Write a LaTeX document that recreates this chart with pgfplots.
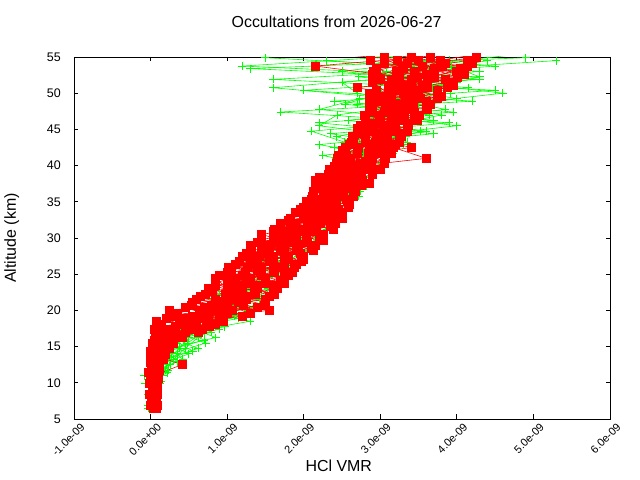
\documentclass[border=0pt]{standalone}
\usepackage{pgfplots}
\usepackage{pgfplotstable}
\pgfplotsset{compat=1.18}
\usepackage{fontspec}
\setmainfont{Liberation Sans}
\definecolor{gpgreen}{RGB}{0,255,0}
\definecolor{gpred}{RGB}{255,0,0}

% values in units of 1e-9 (HCl VMR)
\pgfplotstableread{
alt g1 g2 g3 g4 r1 r2 r3 r4 r5
6.5 -0.03 0.03 -0.01 0.01 0.05 0.03 0.07 0.04 0.06
8 0.05 -0.01 0.03 0.01 0.02 0.08 0.04 0.06 0.06
9.5 0.03 0.08 0.0 0.06 0.06 0.02 0.08 0.05 0.04
11 0.12 -0.08 0.16 0.08 0.1 0.04 0.02 0.08 0.07
12.5 0.26 0.11 0.21 0.16 0.06 0.41 0.03 0.09 0.1
14 0.2 0.5 0.27 0.35 0.14 0.01 0.19 0.06 0.1
15.5 0.48 0.23 0.72 0.35 0.02 0.3 0.09 0.21 0.14
17 0.7 0.49 0.34 0.79 0.45 0.08 0.32 0.2 0.62
18.5 0.86 1.3 0.46 0.68 0.55 0.95 0.08 0.73 0.37
20 1.27 0.67 1.07 0.95 1.07 0.25 1.55 0.63 0.85
21.5 0.82 1.42 1.02 1.22 0.85 1.5 0.6 1.25 1.05
23 1.3 1.0 1.53 1.18 1.65 0.75 1.2 1.0 1.4
24.5 1.46 1.55 1.1 1.22 1.1 1.3 1.75 0.85 1.5
26 1.3 1.78 1.43 1.6 1.45 1.88 1.02 1.64 1.26
27.5 1.76 1.4 1.93 1.58 2.0 1.2 1.6 1.42 1.78
29 1.73 2.08 1.55 1.95 1.3 1.75 1.93 2.15 1.57
30.5 2.14 1.69 1.84 1.99 1.85 2.25 1.45 1.67 2.03
32 1.89 2.19 2.34 2.1 2.21 1.69 2.41 2.05 1.89
33.5 2.34 2.04 2.19 2.49 2.06 2.51 1.89 2.34 2.2
35 2.48 2.55 2.22 2.35 2.57 2.03 2.3 2.18 2.42
36.5 2.59 2.29 2.74 2.44 2.28 2.52 2.67 2.13 2.4
38 2.49 2.79 2.28 2.7 2.5 2.77 2.15 2.62 2.38
39.5 2.7 2.35 2.88 2.53 3.0 2.34 2.51 2.79 2.65
41 2.55 2.9 2.42 2.82 2.61 3.6 2.89 2.44 3.07
42.5 3.15 2.4 2.65 2.9 2.71 3.17 2.54 3.4 3.0
44 2.73 3.3 3.33 2.43 3.27 2.64 3.09 2.81 2.95
45.5 4.0 2.95 2.2 3.11 2.91 3.37 2.74 3.19 3.05
47 2.84 3.64 2.44 3.8 3.51 2.79 3.31 2.99 3.15
48.5 3.34 2.54 3.5 2.7 3.07 3.65 2.85 3.25 3.43
50 4.6 3.02 2.7 3.92 3.5 2.85 3.75 3.1 3.3
51.5 3.4 4.0 2.5 3.9 3.18 3.9 3.4 2.9 3.62
53 3.08 2.5 4.3 3.63 3.99 3.21 2.91 3.69 3.45
54.5 5.3 3.6 2.3 4.4 3.22 4.13 3.5 2.87 3.78
}\tA

\pgfplotstableread{
alt g5 g6 g7 g8 r6 r7 r8 r9 r10
7.25 0.03 -0.01 0.05 0.0 0.05 0.08 0.03 0.06 0.04
8.75 0.04 0.07 0.01 0.05 0.07 0.03 0.08 0.04 0.05
10.25 0.1 0.04 0.13 0.06 0.04 0.09 0.02 0.07 0.05
11.75 0.16 0.23 0.1 0.19 0.08 0.03 0.12 0.06 0.1
13.25 0.3 0.18 0.42 0.22 0.13 0.07 0.03 0.17 0.1
14.75 0.45 0.62 0.25 0.38 0.08 0.25 0.13 0.02 0.18
16.25 0.62 0.28 0.85 0.5 0.32 0.06 0.42 0.16 0.24
17.75 0.81 0.97 0.49 0.62 0.14 0.6 0.32 0.77 0.46
19.25 1.1 0.66 1.22 0.9 0.95 0.3 1.2 0.55 0.75
20.75 1.0 1.42 0.82 1.22 0.79 1.21 0.53 1.48 1.0
22.25 1.37 0.9 1.55 1.2 1.62 0.72 1.17 0.97 1.37
23.75 1.27 1.65 1.13 1.48 1.1 1.5 0.85 1.75 1.3
25.25 1.6 1.25 1.77 1.45 1.43 1.85 1.24 1.0 1.62
26.75 1.55 1.93 1.41 1.7 1.97 1.16 1.57 1.39 1.75
28.25 1.9 1.5 2.07 1.75 1.55 1.9 1.32 2.13 1.73
29.75 2.01 1.69 1.83 2.17 2.25 1.44 1.85 1.67 2.03
31.25 1.85 2.3 2.02 2.15 1.82 2.16 2.38 1.61 1.99
32.75 2.33 2.03 2.48 2.15 2.01 2.5 1.82 2.31 2.16
34.25 2.46 2.6 2.18 2.35 2.41 2.15 2.58 1.99 2.28
35.75 2.42 2.31 2.72 2.5 2.26 2.65 2.11 2.5 2.38
37.25 2.67 2.55 2.37 2.82 2.75 2.21 2.48 2.36 2.6
38.75 2.3 2.9 2.6 2.74 2.48 2.9 2.32 2.74 2.61
40.25 2.84 2.46 3.02 2.62 2.88 2.42 3.05 2.6 2.74
41.75 2.78 3.17 2.5 2.95 2.52 2.98 2.7 3.15 2.84
43.25 3.35 2.53 2.75 3.08 3.25 2.8 3.08 2.62 2.94
44.75 2.95 2.1 3.6 3.53 2.9 3.35 2.72 3.04 3.18
46.25 3.33 3.7 2.58 2.9 3.48 2.99 3.29 2.8 3.14
47.75 3.1 2.2 3.85 3.3 3.07 3.62 2.86 3.41 3.24
49.25 4.0 2.73 3.2 3.58 3.75 2.9 3.52 3.14 3.33
50.75 3.15 4.15 1.6 3.68 3.19 3.88 2.7 3.61 3.4
52.25 4.3 2.72 3.3 4.3 4.0 3.25 3.71 2.96 3.48
53.75 1.2 4.5 3.4 3.93 3.55 2.15 4.13 3.29 3.81
55.25 3.5 2.83 4.7 3.9 3.29 3.85 2.6 4.2 3.57
}\tB

\pgfplotstableread{
alt g9 g10 r11 r12 r13 r14
6.9 0.04 -0.04 0.0 0.06 0.09 0.03
8.4 -0.03 0.08 0.07 -0.02 0.03 0.09
9.9 0.12 -0.07 0.03 0.09 0.06 -0.02
11.4 -0.02 0.22 0.1 0.02 -0.03 0.06
12.9 0.35 0.1 0.0 0.12 0.05 0.08
14.4 0.2 0.55 0.16 0.04 0.1 -0.01
15.9 0.7 0.3 0.05 0.15 0.3 0.1
17.4 0.4 0.9 0.25 0.5 0.05 0.68
18.9 1.15 0.6 0.9 0.2 0.65 0.45
20.4 0.75 1.35 0.45 1.4 0.95 0.7
21.9 1.45 0.85 1.25 0.65 1.0 1.55
23.4 1.0 1.55 0.85 1.6 1.15 1.4
24.9 1.65 1.1 1.45 0.9 1.8 1.2
26.4 1.3 1.8 1.1 1.6 1.35 1.9
27.9 1.95 1.45 1.75 1.25 1.95 1.5
29.4 1.6 2.05 1.4 2.05 1.65 1.85
30.9 2.2 1.75 2.15 1.6 1.95 1.75
32.4 1.95 2.35 1.8 2.3 2.05 2.4
33.9 2.5 2.1 2.45 1.95 2.25 2.1
35.4 2.2 2.6 2.1 2.55 2.35 2.2
36.9 2.7 2.3 2.6 2.25 2.45 2.15
38.4 2.3 2.8 2.35 2.7 2.2 2.55
39.9 2.9 2.35 2.85 2.5 2.4 2.7
41.4 2.25 3.0 2.55 2.9 3.05 2.45
42.9 3.3 2.2 3.1 2.6 2.85 3.2
44.4 2.35 3.7 2.75 3.25 2.95 3.05
45.9 3.9 2.2 3.35 2.85 3.15 2.95
47.4 1.7 3.95 2.9 3.45 3.05 3.3
48.9 4.2 2.4 3.6 3.0 3.35 2.85
50.4 2.0 4.5 3.2 3.75 2.95 3.5
51.9 4.3 1.6 3.0 3.4 3.85 3.15
53.4 1.3 4.1 3.7 2.95 3.3 4.05
54.9 4.9 1.5 3.4 4.25 3.05 3.65
}\tC

\pgfplotstableread{
alt r15 r16 r17 r18
7.6 0.04 0.08 0.01 0.06
9.1 0.02 0.06 0.09 0.04
10.6 0.08 0.0 0.05 0.1
12.1 0.05 0.11 0.01 0.07
13.6 0.13 0.03 0.08 0.0
15.1 0.07 0.22 0.02 0.14
16.6 0.28 0.08 0.42 0.16
18.1 0.1 0.85 0.4 0.6
19.6 0.75 0.35 1.3 1.0
21.1 1.15 0.55 0.9 1.5
22.6 0.8 1.35 1.6 1.05
24.1 1.5 1.0 1.25 1.7
25.6 1.05 1.75 1.4 1.6
27.1 1.8 1.3 2.0 1.55
28.6 1.45 2.1 1.7 1.9
30.1 2.2 1.6 1.9 1.75
31.6 1.85 2.35 2.1 1.7
33.1 2.45 2.0 2.2 2.3
34.6 2.15 2.6 2.4 2.3
36.1 2.5 2.25 2.65 2.4
37.6 2.3 2.7 2.55 2.85
39.1 2.9 2.45 2.6 2.75
40.6 2.55 3.05 2.8 2.45
42.1 3.1 2.7 2.5 2.95
43.6 2.65 3.0 3.25 2.8
45.1 3.35 2.85 3.1 2.7
46.6 2.8 3.2 3.45 3.0
48.1 3.6 2.9 3.15 3.35
49.6 3.05 3.8 3.4 2.95
51.1 3.55 3.1 3.95 3.3
52.6 3.25 4.1 2.9 3.6
54.1 3.85 3.35 4.2 3.05
55.6 3.1 3.7 4.3 3.45
}\tD

\begin{document}
\begin{tikzpicture}[x=1bp,y=1bp]
\path[use as bounding box] (-74,-61) rectangle (566,419);
\begin{axis}[
  at={(0,0)}, anchor=south west,
  scale only axis, width=536bp, height=362bp,
  xmin=-1, xmax=6, ymin=5, ymax=55,
  xtick={-1,0,1,2,3,4,5,6},
  xticklabels={-1.0e-09,0.0e+00,1.0e-09,2.0e-09,3.0e-09,4.0e-09,5.0e-09,6.0e-09},
  ytick={5,10,15,20,25,30,35,40,45,50,55},
  /pgf/number format/assume math mode=true,
  tick align=inside, major tick length=4.5bp,
  tick style={black, line width=0.8bp},
  axis line style={line width=0.8bp},
  xticklabel style={rotate=45, anchor=east, inner sep=0pt, xshift=2bp, yshift=-10.5bp,
    font=\fontsize{11}{12}\selectfont},
  yticklabel style={anchor=east, inner sep=0pt, xshift=-13bp,
    font=\fontsize{12.5}{14}\selectfont},
  xlabel={HCl VMR},
  ylabel={Altitude (km)},
  xlabel style={at={(axis description cs:0.494,-0.130)}, anchor=center, inner sep=0pt,
    font=\fontsize{16}{18}\selectfont},
  ylabel style={at={(axis description cs:-0.116,0.5)}, anchor=center, inner sep=0pt,
    font=\fontsize{16}{18}\selectfont},
  title={Occultations from 2026-06-27},
  title style={at={(axis description cs:0.49,1.0815)}, anchor=center, inner sep=0pt,
    font=\fontsize{16}{18}\selectfont},
  gline/.style={draw=gpgreen, line width=0.6bp, mark=+, mark size=4bp,
    mark options={solid, draw=gpgreen, line width=0.8bp}},
  rline/.style={draw=gpred, line width=0.6bp, mark=square*, mark size=4bp,
    mark options={solid, draw=gpred, fill=gpred}},
]
\addplot[gline] table[x=g1, y=alt] {\tA};
\addplot[gline] table[x=g5, y=alt] {\tB};
\addplot[gline] table[x=g9, y=alt] {\tC};
\addplot[gline] table[x=g2, y=alt] {\tA};
\addplot[gline] table[x=g6, y=alt] {\tB};
\addplot[gline] table[x=g10, y=alt] {\tC};
\addplot[gline] table[x=g3, y=alt] {\tA};
\addplot[gline] table[x=g7, y=alt] {\tB};
\addplot[gline] table[x=g4, y=alt] {\tA};
\addplot[gline] table[x=g8, y=alt] {\tB};
\addplot[rline] table[x=r1, y=alt] {\tA};
\addplot[rline] table[x=r6, y=alt] {\tB};
\addplot[rline] table[x=r11, y=alt] {\tC};
\addplot[rline] table[x=r15, y=alt] {\tD};
\addplot[rline] table[x=r2, y=alt] {\tA};
\addplot[rline] table[x=r7, y=alt] {\tB};
\addplot[rline] table[x=r12, y=alt] {\tC};
\addplot[rline] table[x=r16, y=alt] {\tD};
\addplot[rline] table[x=r3, y=alt] {\tA};
\addplot[rline] table[x=r8, y=alt] {\tB};
\addplot[rline] table[x=r13, y=alt] {\tC};
\addplot[rline] table[x=r17, y=alt] {\tD};
\addplot[rline] table[x=r4, y=alt] {\tA};
\addplot[rline] table[x=r9, y=alt] {\tB};
\addplot[rline] table[x=r14, y=alt] {\tC};
\addplot[rline] table[x=r18, y=alt] {\tD};
\addplot[rline] table[x=r5, y=alt] {\tA};
\addplot[rline] table[x=r10, y=alt] {\tB};
\end{axis}
\end{tikzpicture}
\end{document}
